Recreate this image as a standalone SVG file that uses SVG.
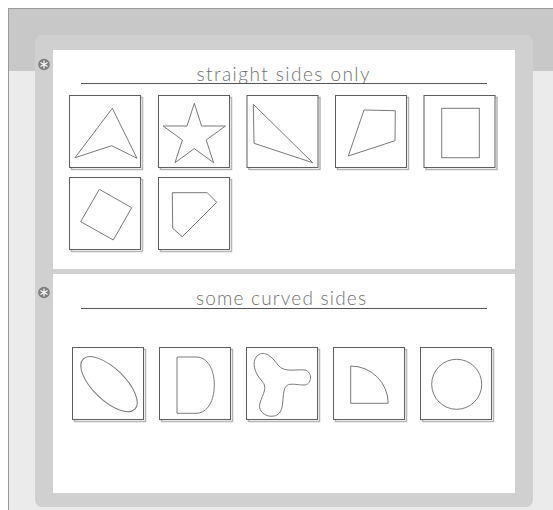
<svg xmlns="http://www.w3.org/2000/svg" width="553" height="510" viewBox="0 0 553 510">
<defs>
<style>
.box{fill:#ffffff;stroke:#5e5e5e;stroke-width:1}
.shadow{fill:none;stroke:#b4b4b4;stroke-width:1.5}
.shape{fill:none;stroke:#7a7a7a;stroke-width:1}
.title{font-family:Lato,"Liberation Sans",sans-serif;font-weight:300;font-size:19px;fill:#707070}
.rule{stroke:#555555;stroke-width:1}
.icon{fill:#7d7d7d}
.spoke{stroke:#ffffff;stroke-width:1.2;stroke-linecap:round}
</style>
<g id="sym-icon">
<circle class="icon" cx="0" cy="0" r="5.8"/>
<line class="spoke" x1="0" y1="-3.6" x2="0" y2="3.6"/>
<line class="spoke" x1="-3.1" y1="-1.8" x2="3.1" y2="1.8"/>
<line class="spoke" x1="-3.1" y1="1.8" x2="3.1" y2="-1.8"/>
</g>
</defs>
<rect x="0" y="0" width="553" height="510" fill="#ffffff"/>
<rect x="8" y="8" width="545" height="502" fill="#ebebeb"/>
<rect x="8" y="8" width="545" height="63" fill="#c8c8c8"/>
<line x1="8.5" y1="8" x2="8.5" y2="510" stroke="#999999"/>
<line x1="8" y1="8.5" x2="553" y2="8.5" stroke="#999999"/>
<rect x="35" y="35" width="498" height="472" rx="7" fill="#d0d0d0"/>
<rect x="53" y="50" width="462" height="219" fill="#ffffff"/>
<rect x="53" y="274" width="462" height="219" fill="#ffffff"/>

<g id="section-straight">
<use href="#sym-icon" x="44" y="64.5"/>
<text class="title" x="283" y="80.5" text-anchor="middle" textLength="173" lengthAdjust="spacing">straight sides only</text>
<line class="rule" x1="81" y1="83.5" x2="487" y2="83.5"/>
</g>

<g id="s1-box1">
<rect class="shadow" x="71.5" y="97.5" width="71" height="72"/>
<rect class="box" x="69.5" y="95.5" width="71" height="72"/>
<polygon class="shape" points="112.3,108.3 75,157.7 111.7,145.7 137,158.3"/>
</g>
<g id="s1-box2">
<rect class="shadow" x="160.5" y="97.5" width="71" height="72"/>
<rect class="box" x="158.5" y="95.5" width="71" height="72"/>
<polygon class="shape" points="194.3,103.3 201.6,126 225.5,126 206.2,140 213.6,162.7 194.3,148.6 175,162.7 182.4,140 163.1,126 187,126"/>
</g>
<g id="s1-box3">
<rect class="shadow" x="249" y="97.5" width="71" height="72"/>
<rect class="box" x="247" y="95.5" width="71" height="72"/>
<polygon class="shape" points="253.3,104.3 254,143.3 312.7,162.7"/>
</g>
<g id="s1-box4">
<rect class="shadow" x="337.5" y="97.5" width="71" height="72"/>
<rect class="box" x="335.5" y="95.5" width="71" height="72"/>
<polygon class="shape" points="364,110 395.3,110.7 395,140.7 348.3,156"/>
</g>
<g id="s1-box5">
<rect class="shadow" x="426" y="97.5" width="71" height="72"/>
<rect class="box" x="424" y="95.5" width="71" height="72"/>
<rect class="shape" x="441.7" y="108.3" width="37.6" height="49.4"/>
</g>
<g id="s1-box6">
<rect class="shadow" x="71.5" y="179.5" width="71" height="72"/>
<rect class="box" x="69.5" y="177.5" width="71" height="72"/>
<polygon class="shape" points="99.3,189.3 131.7,207.7 113.3,240 80.7,221.7"/>
</g>
<g id="s1-box7">
<rect class="shadow" x="160.5" y="179.5" width="71" height="72"/>
<rect class="box" x="158.5" y="177.5" width="71" height="72"/>
<polygon class="shape" points="172.3,192.7 207.3,192.7 216.7,202.3 182.3,236.7 172.7,228.3"/>
</g>

<g id="section-curved">
<use href="#sym-icon" x="44" y="292.5"/>
<text class="title" x="281" y="305" text-anchor="middle" textLength="170" lengthAdjust="spacing">some curved sides</text>
<line class="rule" x1="81" y1="308.5" x2="487" y2="308.5"/>
</g>

<g id="s2-box1">
<rect class="shadow" x="74.5" y="349.5" width="71" height="72"/>
<rect class="box" x="72.5" y="347.5" width="71" height="72"/>
<ellipse class="shape" cx="109" cy="384.2" rx="36" ry="16" transform="rotate(44 109 384.2)"/>
</g>
<g id="s2-box2">
<rect class="shadow" x="161.5" y="349.5" width="71" height="72"/>
<rect class="box" x="159.5" y="347.5" width="71" height="72"/>
<path class="shape" d="M177,357 H196 C208,357 214.3,370 214.3,385 C214.3,400 208,413.3 196,413.3 H177 Z"/>
</g>
<g id="s2-box3">
<rect class="shadow" x="248.5" y="349.5" width="71" height="72"/>
<rect class="box" x="246.5" y="347.5" width="71" height="72"/>
<path class="shape" d="M257,356 C263,350 271,355 278,365 C284,373 296,369 305,370 C313,372 312,385 304,385 C294,385 286,381 284,391 C282,401 284,411 277,415 C269,419 257,413 260,403 C263,393 268,388 262,381 C255,374 251,362 257,356 Z"/>
</g>
<g id="s2-box4">
<rect class="shadow" x="335.5" y="349.5" width="71" height="72"/>
<rect class="box" x="333.5" y="347.5" width="71" height="72"/>
<path class="shape" d="M350.7,366 A37.5,37.5 0 0 1 388.2,403.3 H350.7 Z"/>
</g>
<g id="s2-box5">
<rect class="shadow" x="422.5" y="349.5" width="71" height="72"/>
<rect class="box" x="420.5" y="347.5" width="71" height="72"/>
<circle class="shape" cx="456.7" cy="384.3" r="25"/>
</g>
</svg>
